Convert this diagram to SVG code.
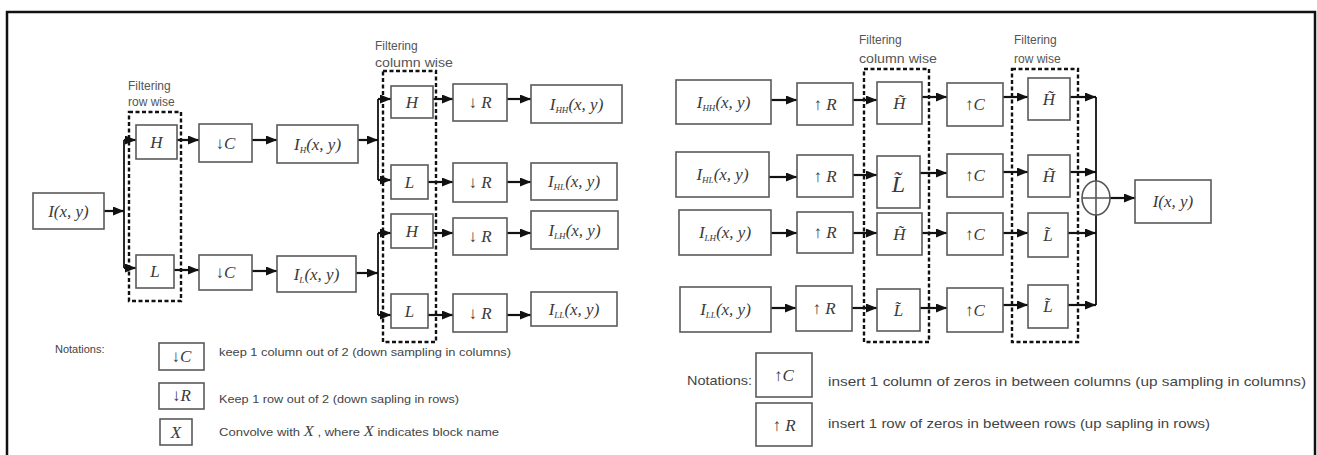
<svg xmlns="http://www.w3.org/2000/svg" width="1317" height="455" viewBox="0 0 1317 455">
<defs>
<marker id="ah" markerUnits="userSpaceOnUse" markerWidth="11" markerHeight="9" refX="11" refY="4.5" orient="auto">
<path d="M0,0 L11,4.5 L0,9 z" fill="#111"/>
</marker>
<style>
.b{fill:#fff;stroke:#5a5a5a;stroke-width:1.6}
.d{fill:none;stroke:#111;stroke-width:2.4;stroke-dasharray:4 2.5}
.t{font-family:"Liberation Serif","Times New Roman",serif;font-style:italic;font-size:17px;fill:#3a3a3a;text-anchor:middle}
.s{font-size:9px}
.ar{font-style:normal;font-size:17px}
.lbl{font-family:"Liberation Sans",Arial,sans-serif;font-size:12px;fill:#555}
.nt{font-family:"Liberation Sans",Arial,sans-serif;font-size:11px;fill:#444}
.c path{fill:none;stroke:#111;stroke-width:2.2}
.c .a{marker-end:url(#ah)}
.c .v{stroke-width:1.8}
</style>
</defs>
<rect x="7" y="12" width="1308" height="460" fill="#fff" stroke="#111" stroke-width="2.5"/>

<g id="groups">
<rect class="d" x="129" y="112" width="52" height="189"/>
<rect class="d" x="383" y="71" width="53" height="271"/>
<rect class="d" x="864" y="69" width="65" height="273"/>
<rect class="d" x="1012" y="69" width="66" height="273"/>
<text class="lbl" x="128" y="90">Filtering</text>
<text class="lbl" x="128" y="106">row wise</text>
<text class="lbl" x="375" y="50">Filtering</text>
<text class="lbl" x="375" y="67" textLength="78" lengthAdjust="spacingAndGlyphs">column wise</text>
<text class="lbl" x="859" y="44">Filtering</text>
<text class="lbl" x="859" y="63" textLength="78" lengthAdjust="spacingAndGlyphs">column wise</text>
<text class="lbl" x="1014" y="44">Filtering</text>
<text class="lbl" x="1014" y="63">row wise</text>
</g>

<g id="connectors" class="c">
<path class="a" d="M104,211 H124"/>
<path class="v" d="M124,140 V268"/>
<path class="a" d="M124,140 H136"/>
<path class="a" d="M124,268 H136"/>
<path class="a" d="M177,140 H199"/>
<path class="a" d="M174,270 H199"/>
<path class="a" d="M252,140 H277"/>
<path class="a" d="M252,271 H277"/>
<path class="a" d="M358,140 H378"/>
<path class="v" d="M378,99 V180"/>
<path class="a" d="M378,99 H391"/>
<path class="a" d="M378,180 H391"/>
<path class="a" d="M433,99 H453"/>
<path class="a" d="M428,182 H453"/>
<path class="a" d="M507,99 H531"/>
<path class="a" d="M507,182 H531"/>
<path class="a" d="M356,273 H378"/>
<path class="v" d="M378,233 V315"/>
<path class="a" d="M378,233 H391"/>
<path class="a" d="M378,315 H391"/>
<path class="a" d="M433,233 H453"/>
<path class="a" d="M428,315 H453"/>
<path class="a" d="M507,233 H531"/>
<path class="a" d="M507,315 H531"/>

<path class="a" d="M771,100 H797"/>
<path class="a" d="M853,100 H877"/>
<path class="a" d="M922,97 H947"/>
<path class="a" d="M1003,97 H1028"/>
<path class="a" d="M1070,97 H1096"/>
<path class="a" d="M769,177 H797"/>
<path class="a" d="M853,175 H877"/>
<path class="a" d="M920,173 H947"/>
<path class="a" d="M1003,172 H1028"/>
<path class="a" d="M1070,172 H1096"/>
<path class="a" d="M771,233 H797"/>
<path class="a" d="M853,233 H877"/>
<path class="a" d="M922,233 H947"/>
<path class="a" d="M1003,233 H1028"/>
<path class="a" d="M1068,233 H1096"/>
<path class="a" d="M771,308 H796"/>
<path class="a" d="M852,308 H877"/>
<path class="a" d="M920,308 H947"/>
<path class="a" d="M1003,305 H1028"/>
<path class="a" d="M1068,305 H1096"/>
<path class="v" d="M1096,97 V305"/>
<path class="a" d="M1110,198 H1135"/>
</g>

<g id="n_I"><rect class="b" x="33" y="193" width="71" height="36"/><text class="t" x="68.5" y="217">I(x, y)</text></g>
<g id="n_H1"><rect class="b" x="136" y="125" width="41" height="34"/><text class="t" x="156.5" y="148">H</text></g>
<g id="n_L1"><rect class="b" x="136" y="255" width="38" height="33"/><text class="t" x="155" y="277">L</text></g>
<g id="n_dC1"><rect class="b" x="199" y="124" width="53" height="38"/><text class="t" x="225.5" y="149"><tspan class="ar">↓</tspan>C</text></g>
<g id="n_dC2"><rect class="b" x="199" y="255" width="53" height="35"/><text class="t" x="225.5" y="278"><tspan class="ar">↓</tspan>C</text></g>
<g id="n_IH"><rect class="b" x="277" y="125" width="81" height="38"/><text class="t" x="317.5" y="150">I<tspan class="s" dy="3">H</tspan><tspan dy="-3">(x, y)</tspan></text></g>
<g id="n_IL"><rect class="b" x="277" y="256" width="79" height="36"/><text class="t" x="316.5" y="280">I<tspan class="s" dy="3">L</tspan><tspan dy="-3">(x, y)</tspan></text></g>
<g id="n_H2"><rect class="b" x="391" y="86" width="42" height="32"/><text class="t" x="412" y="108">H</text></g>
<g id="n_L2"><rect class="b" x="391" y="165" width="37" height="34"/><text class="t" x="409.5" y="188">L</text></g>
<g id="n_H3"><rect class="b" x="391" y="214" width="42" height="34"/><text class="t" x="412" y="237">H</text></g>
<g id="n_L3"><rect class="b" x="391" y="294" width="37" height="34"/><text class="t" x="409.5" y="317">L</text></g>
<g id="n_dR1"><rect class="b" x="453" y="84" width="54" height="37"/><text class="t" x="480" y="108"><tspan class="ar">↓</tspan> R</text></g>
<g id="n_dR2"><rect class="b" x="453" y="163" width="54" height="39"/><text class="t" x="480" y="188"><tspan class="ar">↓</tspan> R</text></g>
<g id="n_dR3"><rect class="b" x="453" y="218" width="54" height="37"/><text class="t" x="480" y="242"><tspan class="ar">↓</tspan> R</text></g>
<g id="n_dR4"><rect class="b" x="453" y="294" width="54" height="38"/><text class="t" x="480" y="319"><tspan class="ar">↓</tspan> R</text></g>
<g id="n_IHH"><rect class="b" x="531" y="85" width="91" height="38"/><text class="t" x="576.5" y="110">I<tspan class="s" dy="3">HH</tspan><tspan dy="-3">(x, y)</tspan></text></g>
<g id="n_IHL"><rect class="b" x="531" y="163" width="86" height="37"/><text class="t" x="574" y="187">I<tspan class="s" dy="3">HL</tspan><tspan dy="-3">(x, y)</tspan></text></g>
<g id="n_ILH"><rect class="b" x="531" y="211" width="87" height="38"/><text class="t" x="574.5" y="236">I<tspan class="s" dy="3">LH</tspan><tspan dy="-3">(x, y)</tspan></text></g>
<g id="n_ILL"><rect class="b" x="531" y="292" width="86" height="34"/><text class="t" x="574" y="315">I<tspan class="s" dy="3">LL</tspan><tspan dy="-3">(x, y)</tspan></text></g>

<g id="r_IHH"><rect class="b" x="676" y="80" width="95" height="44"/><text class="t" x="723.5" y="108">I<tspan class="s" dy="3">HH</tspan><tspan dy="-3">(x, y)</tspan></text></g>
<g id="r_uR1"><rect class="b" x="797" y="83" width="56" height="42"/><text class="t" x="825" y="110"><tspan class="ar">↑</tspan> R</text></g>
<g id="r_Ht1"><rect class="b" x="877" y="82" width="45" height="42"/><text class="t" x="899.5" y="109">H̃</text></g>
<g id="r_uC1"><rect class="b" x="947" y="83" width="56" height="43"/><text class="t" x="975" y="110"><tspan class="ar">↑</tspan>C</text></g>
<g id="r_Ht1b"><rect class="b" x="1028" y="78" width="42" height="42"/><text class="t" x="1049" y="105">H̃</text></g>

<g id="r_IHL"><rect class="b" x="676" y="152" width="93" height="45"/><text class="t" x="722.5" y="180">I<tspan class="s" dy="3">HL</tspan><tspan dy="-3">(x, y)</tspan></text></g>
<g id="r_uR2"><rect class="b" x="797" y="155" width="56" height="42"/><text class="t" x="825" y="182"><tspan class="ar">↑</tspan> R</text></g>
<g id="r_Lt2"><rect class="b" x="877" y="156" width="43" height="52"/><text class="t" x="898.5" y="192" style="font-size:24px">L̃</text></g>
<g id="r_uC2"><rect class="b" x="947" y="154" width="56" height="43"/><text class="t" x="975" y="181"><tspan class="ar">↑</tspan>C</text></g>
<g id="r_Ht2b"><rect class="b" x="1028" y="155" width="42" height="42"/><text class="t" x="1049" y="182">H̃</text></g>

<g id="r_ILH"><rect class="b" x="679" y="210" width="92" height="45"/><text class="t" x="725" y="238">I<tspan class="s" dy="3">LH</tspan><tspan dy="-3">(x, y)</tspan></text></g>
<g id="r_uR3"><rect class="b" x="797" y="212" width="56" height="41"/><text class="t" x="825" y="238"><tspan class="ar">↑</tspan> R</text></g>
<g id="r_Ht3"><rect class="b" x="877" y="213" width="45" height="42"/><text class="t" x="899.5" y="240">H̃</text></g>
<g id="r_uC3"><rect class="b" x="947" y="213" width="56" height="42"/><text class="t" x="975" y="240"><tspan class="ar">↑</tspan>C</text></g>
<g id="r_Lt3b"><rect class="b" x="1028" y="213" width="40" height="44"/><text class="t" x="1048" y="241">L̃</text></g>

<g id="r_ILL"><rect class="b" x="680" y="287" width="91" height="45"/><text class="t" x="725.5" y="315">I<tspan class="s" dy="3">LL</tspan><tspan dy="-3">(x, y)</tspan></text></g>
<g id="r_uR4"><rect class="b" x="796" y="286" width="56" height="45"/><text class="t" x="824" y="314"><tspan class="ar">↑</tspan> R</text></g>
<g id="r_Lt4"><rect class="b" x="877" y="289" width="43" height="42"/><text class="t" x="898.5" y="316">L̃</text></g>
<g id="r_uC4"><rect class="b" x="947" y="288" width="56" height="44"/><text class="t" x="975" y="316"><tspan class="ar">↑</tspan>C</text></g>
<g id="r_Lt4b"><rect class="b" x="1028" y="285" width="40" height="43"/><text class="t" x="1048" y="312">L̃</text></g>

<g id="r_sum"><ellipse cx="1096" cy="198" rx="14" ry="17" fill="#fff" stroke="#555" stroke-width="1.6"/><path d="M1082,198 H1110 M1096,181 V215" stroke="#555" stroke-width="1.6"/></g>
<g id="r_out"><rect class="b" x="1135" y="180" width="76" height="43"/><text class="t" x="1173" y="207">I(x, y)</text></g>

<g id="notes_left">
<text class="nt" x="55" y="353">Notations:</text>
<rect class="b" x="159" y="343" width="45" height="27"/><text class="t" x="181.5" y="362"><tspan class="ar">↓</tspan>C</text>
<text class="nt" x="219" y="356" textLength="292" lengthAdjust="spacingAndGlyphs">keep 1 column out of 2 (down sampling in columns)</text>
<rect class="b" x="159" y="383" width="45" height="26"/><text class="t" x="181.5" y="401"><tspan class="ar">↓</tspan>R</text>
<text class="nt" x="219" y="403" textLength="240" lengthAdjust="spacingAndGlyphs">Keep 1 row out of 2 (down sapling in rows)</text>
<rect class="b" x="160" y="419" width="32" height="26"/><text class="t" x="176" y="438">X</text>
<text class="nt" x="219" y="436" textLength="280" lengthAdjust="spacingAndGlyphs">Convolve with <tspan style="font-family:'Liberation Serif',serif;font-style:italic;font-size:14px">X</tspan> , where <tspan style="font-family:'Liberation Serif',serif;font-style:italic;font-size:14px">X</tspan> indicates block name</text>
</g>

<g id="notes_right">
<text class="nt" x="687" y="385" style="font-size:13px" textLength="65" lengthAdjust="spacingAndGlyphs">Notations:</text>
<rect class="b" x="756" y="353" width="56" height="44"/><text class="t" x="784" y="381"><tspan class="ar">↑</tspan>C</text>
<text class="nt" x="828" y="386" style="font-size:13px" textLength="478" lengthAdjust="spacingAndGlyphs">insert 1 column of zeros in between columns (up sampling in columns)</text>
<rect class="b" x="756" y="403" width="56" height="43"/><text class="t" x="784" y="431"><tspan class="ar">↑</tspan> R</text>
<text class="nt" x="828" y="428" style="font-size:13px" textLength="382" lengthAdjust="spacingAndGlyphs">insert 1 row of zeros in between rows (up sapling in rows)</text>
</g>
</svg>
